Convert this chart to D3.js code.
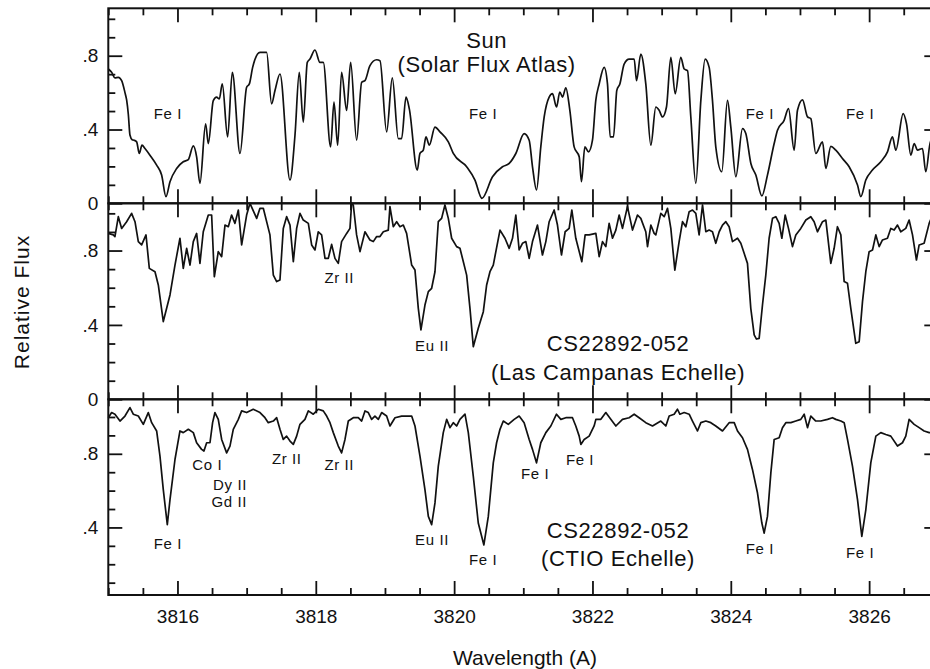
<!DOCTYPE html>
<html>
<head>
<meta charset="utf-8">
<script src="https://cdn.jsdelivr.net/npm/d3@7"></script>
<style>
  body { margin: 0; background: #fff; }
  svg { display: block; font-family: "Liberation Sans", Arial, Helvetica, sans-serif; }
</style>
</head>
<body>
<svg id="chart" width="930" height="669"></svg>
<script>
// wavelength (A), relative flux
const sunSpectrum = [
  [3815.000,0.728],[3815.048,0.710],[3815.096,0.680],[3815.145,0.683],[3815.193,0.665],[3815.241,0.600],
  [3815.265,0.560],[3815.290,0.480],[3815.313,0.370],[3815.345,0.345],[3815.371,0.342],[3815.410,0.333],
  [3815.448,0.270],[3815.487,0.315],[3815.530,0.297],[3815.602,0.261],[3815.699,0.207],[3815.771,0.153],
  [3815.834,0.036],[3815.892,0.117],[3815.988,0.189],[3816.084,0.225],[3816.157,0.237],[3816.229,0.311],
  [3816.277,0.252],[3816.325,0.108],[3816.407,0.431],[3816.446,0.324],[3816.518,0.557],[3816.566,0.575],
  [3816.605,0.566],[3816.648,0.647],[3816.725,0.360],[3816.793,0.710],[3816.904,0.270],[3817.000,0.629],
  [3817.039,0.647],[3817.087,0.737],[3817.193,0.818],[3817.289,0.818],[3817.361,0.539],[3817.410,0.611],
  [3817.482,0.701],[3817.627,0.126],[3817.699,0.369],[3817.761,0.710],[3817.819,0.440],[3817.877,0.764],
  [3817.916,0.782],[3817.988,0.831],[3818.060,0.764],[3818.108,0.764],[3818.214,0.306],[3818.263,0.548],
  [3818.316,0.315],[3818.373,0.710],[3818.446,0.503],[3818.504,0.764],[3818.590,0.342],[3818.663,0.656],
  [3818.711,0.665],[3818.783,0.746],[3818.880,0.778],[3818.928,0.773],[3819.024,0.387],[3819.106,0.680],
  [3819.193,0.351],[3819.241,0.351],[3819.304,0.575],[3819.352,0.512],[3819.467,0.180],[3819.506,0.270],
  [3819.554,0.288],[3819.593,0.360],[3819.641,0.315],[3819.723,0.413],[3819.795,0.387],[3819.916,0.333],
  [3819.988,0.270],[3820.181,0.198],[3820.301,0.126],[3820.402,0.027],[3820.555,0.144],[3820.699,0.198],
  [3820.796,0.216],[3820.892,0.270],[3821.012,0.378],[3821.085,0.342],[3821.133,0.198],[3821.191,0.072],
  [3821.253,0.306],[3821.302,0.468],[3821.374,0.576],[3821.422,0.594],[3821.480,0.522],[3821.528,0.603],
  [3821.567,0.576],[3821.615,0.626],[3821.673,0.504],[3821.735,0.306],[3821.808,0.252],[3821.841,0.117],
  [3821.890,0.306],[3821.943,0.279],[3822.000,0.342],[3822.048,0.558],[3822.097,0.647],[3822.169,0.737],
  [3822.217,0.647],[3822.256,0.360],[3822.304,0.360],[3822.352,0.612],[3822.396,0.647],[3822.458,0.755],
  [3822.530,0.782],[3822.603,0.782],[3822.637,0.665],[3822.699,0.809],[3822.771,0.647],[3822.844,0.315],
  [3822.916,0.522],[3822.964,0.504],[3823.012,0.468],[3823.070,0.522],[3823.133,0.791],[3823.196,0.594],
  [3823.277,0.791],[3823.326,0.728],[3823.374,0.719],[3823.422,0.468],[3823.494,0.108],[3823.567,0.558],
  [3823.629,0.782],[3823.687,0.737],[3823.735,0.558],[3823.783,0.306],[3823.870,0.171],[3823.952,0.558],
  [3824.000,0.414],[3824.073,0.144],[3824.169,0.405],[3824.217,0.378],[3824.290,0.216],[3824.362,0.153],
  [3824.449,0.040],[3824.530,0.153],[3824.627,0.324],[3824.675,0.396],[3824.771,0.450],[3824.834,0.513],
  [3824.916,0.288],[3824.964,0.504],[3825.037,0.561],[3825.109,0.468],[3825.157,0.459],[3825.229,0.270],
  [3825.326,0.333],[3825.374,0.189],[3825.446,0.309],[3825.518,0.288],[3825.614,0.243],[3825.711,0.198],
  [3825.832,0.099],[3825.880,0.036],[3825.952,0.126],[3826.048,0.180],[3826.169,0.225],[3826.265,0.279],
  [3826.337,0.360],[3826.386,0.288],[3826.492,0.486],[3826.540,0.432],[3826.603,0.261],[3826.651,0.324],
  [3826.699,0.288],[3826.771,0.297],[3826.819,0.171],[3826.892,0.342],[3827.000,0.330]
];

const lcoSpectrum = [
  [3815.000,0.892],[3815.072,0.884],[3815.096,0.875],[3815.145,0.982],[3815.193,0.919],[3815.265,0.955],
  [3815.337,1.000],[3815.386,0.955],[3815.434,0.848],[3815.482,0.830],[3815.545,0.884],[3815.593,0.704],
  [3815.675,0.686],[3815.723,0.615],[3815.795,0.418],[3815.892,0.561],[3815.964,0.722],[3816.036,0.866],
  [3816.084,0.704],[3816.133,0.812],[3816.181,0.722],[3816.229,0.848],[3816.277,0.892],[3816.325,0.731],
  [3816.373,0.901],[3816.446,0.991],[3816.494,0.991],[3816.533,0.659],[3816.590,0.794],[3816.639,0.767],
  [3816.687,0.937],[3816.735,0.928],[3816.783,0.991],[3816.831,0.946],[3816.880,1.018],[3816.928,0.830],
  [3817.000,0.991],[3817.048,1.054],[3817.145,0.973],[3817.193,1.027],[3817.241,1.027],[3817.337,0.884],
  [3817.386,0.668],[3817.434,0.633],[3817.482,0.642],[3817.530,0.919],[3817.578,0.982],[3817.627,0.937],
  [3817.675,0.740],[3817.723,0.919],[3817.771,1.000],[3817.819,0.964],[3817.892,0.946],[3817.940,0.830],
  [3817.988,0.803],[3818.036,0.901],[3818.084,0.884],[3818.133,0.758],[3818.181,0.758],[3818.229,0.833],
  [3818.277,0.758],[3818.325,0.731],[3818.373,0.848],[3818.446,0.892],[3818.494,0.919],[3818.518,1.054],
  [3818.542,1.045],[3818.590,0.884],[3818.639,0.794],[3818.711,0.901],[3818.783,0.857],[3818.831,0.848],
  [3818.880,0.875],[3818.928,0.875],[3818.976,0.901],[3819.048,0.910],[3819.072,1.036],[3819.120,0.928],
  [3819.169,0.955],[3819.217,0.928],[3819.265,0.937],[3819.313,0.892],[3819.386,0.722],[3819.434,0.695],
  [3819.482,0.489],[3819.520,0.373],[3819.578,0.507],[3819.627,0.579],[3819.675,0.597],[3819.723,0.686],
  [3819.771,0.955],[3819.819,0.973],[3819.867,1.045],[3819.916,0.973],[3819.964,0.866],[3820.036,0.821],
  [3820.084,0.812],[3820.133,0.740],[3820.181,0.668],[3820.229,0.489],[3820.277,0.283],[3820.349,0.382],
  [3820.422,0.471],[3820.470,0.615],[3820.518,0.686],[3820.566,0.722],[3820.663,0.910],[3820.735,0.866],
  [3820.796,0.812],[3820.844,0.866],[3820.892,0.991],[3820.940,0.803],[3820.988,0.839],[3821.037,0.848],
  [3821.085,0.758],[3821.133,0.848],[3821.205,0.937],[3821.277,0.776],[3821.326,0.848],[3821.374,0.955],
  [3821.446,1.018],[3821.494,0.937],[3821.552,0.776],[3821.605,0.901],[3821.663,0.919],[3821.702,1.018],
  [3821.759,0.866],[3821.846,0.740],[3821.894,0.884],[3821.952,0.884],[3822.049,0.892],[3822.097,0.767],
  [3822.145,0.848],[3822.193,0.821],[3822.241,0.946],[3822.290,0.866],[3822.338,0.910],[3822.386,0.991],
  [3822.434,0.919],[3822.506,1.036],[3822.579,0.910],[3822.651,0.991],[3822.699,0.973],[3822.771,0.901],
  [3822.796,0.821],[3822.844,0.937],[3822.892,0.892],[3822.916,0.884],[3822.988,1.000],[3823.037,0.982],
  [3823.085,1.027],[3823.133,0.919],[3823.191,0.695],[3823.253,0.848],[3823.302,0.955],[3823.350,0.928],
  [3823.398,1.009],[3823.446,1.018],[3823.494,1.000],[3823.542,0.884],[3823.591,1.045],[3823.639,0.901],
  [3823.687,0.910],[3823.735,0.901],[3823.783,0.839],[3823.832,0.901],[3823.880,0.937],[3823.928,0.955],
  [3823.976,0.928],[3824.024,0.848],[3824.097,0.866],[3824.145,0.839],[3824.193,0.785],[3824.241,0.731],
  [3824.289,0.489],[3824.338,0.346],[3824.371,0.324],[3824.410,0.328],[3824.458,0.507],[3824.506,0.668],
  [3824.554,0.866],[3824.603,0.973],[3824.651,0.982],[3824.699,0.946],[3824.738,0.866],[3824.786,0.991],
  [3824.834,0.919],[3824.892,0.821],[3824.940,0.884],[3825.012,0.919],[3825.085,0.964],[3825.157,0.982],
  [3825.205,0.955],[3825.253,0.901],[3825.326,0.955],[3825.374,0.964],[3825.446,0.731],[3825.494,0.812],
  [3825.542,0.928],[3825.591,0.884],[3825.639,0.633],[3825.687,0.624],[3825.735,0.489],[3825.807,0.301],
  [3825.856,0.310],[3825.904,0.525],[3825.952,0.686],[3826.000,0.794],[3826.049,0.803],[3826.097,0.884],
  [3826.145,0.821],[3826.193,0.857],[3826.265,0.866],[3826.313,0.919],[3826.362,0.910],[3826.410,0.937],
  [3826.458,0.901],[3826.530,0.919],[3826.578,0.964],[3826.627,0.884],[3826.684,0.749],[3826.723,0.830],
  [3826.795,0.839],[3826.868,0.946],[3826.916,0.991]
];

const ctioSpectrum = [
  [3815.000,0.996],[3815.048,1.024],[3815.096,1.015],[3815.169,0.978],[3815.241,1.005],[3815.313,1.051],
  [3815.361,1.015],[3815.434,1.005],[3815.506,0.960],[3815.578,1.024],[3815.627,0.969],[3815.699,0.924],
  [3815.747,0.787],[3815.795,0.605],[3815.853,0.415],[3815.892,0.551],[3815.964,0.769],[3816.036,0.924],
  [3816.084,0.915],[3816.157,0.933],[3816.229,0.915],[3816.277,0.860],[3816.349,0.824],[3816.383,0.815],
  [3816.422,0.860],[3816.470,0.860],[3816.508,0.969],[3816.542,1.024],[3816.590,0.987],[3816.639,0.878],
  [3816.711,0.805],[3816.759,0.842],[3816.807,0.933],[3816.880,0.987],[3816.928,1.033],[3817.000,1.024],
  [3817.096,1.042],[3817.193,1.024],[3817.265,0.996],[3817.313,0.969],[3817.386,0.978],[3817.434,0.996],
  [3817.482,0.933],[3817.530,0.878],[3817.578,0.896],[3817.627,0.869],[3817.675,0.851],[3817.723,0.896],
  [3817.771,0.960],[3817.843,0.987],[3817.892,1.033],[3817.964,1.015],[3818.036,1.042],[3818.108,1.033],
  [3818.157,1.005],[3818.205,0.969],[3818.253,0.915],[3818.325,0.842],[3818.373,0.805],[3818.422,0.878],
  [3818.470,0.978],[3818.542,0.996],[3818.614,0.996],[3818.663,0.978],[3818.711,1.033],[3818.759,1.024],
  [3818.807,0.987],[3818.855,1.005],[3818.904,0.987],[3818.952,1.024],[3819.024,1.005],[3819.072,0.951],
  [3819.145,0.996],[3819.241,1.005],[3819.386,1.005],[3819.434,0.951],[3819.506,0.787],[3819.578,0.605],
  [3819.627,0.460],[3819.675,0.415],[3819.723,0.533],[3819.771,0.733],[3819.843,0.915],[3819.892,0.987],
  [3819.940,0.942],[3819.988,0.969],[3820.036,0.951],[3820.084,0.987],[3820.157,1.015],[3820.205,0.915],
  [3820.277,0.678],[3820.349,0.424],[3820.430,0.305],[3820.494,0.460],[3820.566,0.751],[3820.614,0.860],
  [3820.663,0.933],[3820.711,0.978],[3820.783,0.960],[3820.868,0.987],[3820.940,1.005],[3821.012,0.969],
  [3821.085,0.878],[3821.133,0.824],[3821.191,0.751],[3821.253,0.860],[3821.326,0.915],[3821.398,0.951],
  [3821.480,1.015],[3821.543,0.987],[3821.615,0.996],[3821.711,0.996],[3821.759,0.951],[3821.808,0.896],
  [3821.832,0.851],[3821.880,0.878],[3821.952,0.896],[3822.024,0.951],[3822.049,0.987],[3822.121,0.987],
  [3822.193,1.024],[3822.265,0.987],[3822.338,0.951],[3822.434,0.987],[3822.530,0.996],[3822.603,1.015],
  [3822.675,0.996],[3822.771,0.969],[3822.868,0.951],[3822.988,0.978],[3823.061,0.951],[3823.109,1.005],
  [3823.181,1.015],[3823.229,1.042],[3823.263,1.015],[3823.326,1.024],[3823.398,1.015],[3823.446,0.978],
  [3823.518,0.924],[3823.567,0.969],[3823.639,0.978],[3823.711,0.969],[3823.783,0.951],[3823.880,0.924],
  [3823.976,0.969],[3824.049,0.969],[3824.097,0.924],[3824.169,0.887],[3824.241,0.824],[3824.313,0.715],
  [3824.386,0.587],[3824.449,0.424],[3824.482,0.369],[3824.530,0.460],[3824.579,0.696],[3824.627,0.878],
  [3824.699,0.887],[3824.747,0.942],[3824.796,0.969],[3824.868,0.969],[3824.940,0.978],[3825.012,0.987],
  [3825.061,1.015],[3825.109,0.942],[3825.157,1.005],[3825.229,0.978],[3825.301,0.978],[3825.398,0.987],
  [3825.470,0.996],[3825.518,0.987],[3825.591,0.978],[3825.639,0.969],[3825.687,0.878],[3825.759,0.733],
  [3825.832,0.551],[3825.894,0.351],[3825.952,0.496],[3826.024,0.751],[3826.097,0.896],[3826.169,0.915],
  [3826.241,0.905],[3826.313,0.896],[3826.410,0.842],[3826.482,0.860],[3826.530,0.896],[3826.578,0.987],
  [3826.651,0.960],[3826.723,0.942],[3826.795,0.924],[3826.868,0.915],[3826.916,0.915]
];

// line identifications: text, wavelength, flux level of the label
const sunLines = [
  ["Fe I", 3815.86, 0.487], ["Fe I", 3820.42, 0.487], ["Fe I", 3824.42, 0.487], ["Fe I", 3825.87, 0.487]
];
const lcoLines = [
  ["Zr II", 3818.34, 0.652], ["Eu II", 3819.68, 0.287]
];
const ctioLines = [
  ["Fe I", 3815.86, 0.311], ["Co I", 3816.43, 0.742], ["Dy II", 3816.76, 0.633], ["Gd II", 3816.75, 0.540],
  ["Zr II", 3817.58, 0.774], ["Zr II", 3818.34, 0.742], ["Eu II", 3819.68, 0.333], ["Fe I", 3820.42, 0.224],
  ["Fe I", 3821.17, 0.693], ["Fe I", 3821.82, 0.769], ["Fe I", 3824.42, 0.284], ["Fe I", 3825.87, 0.262]
];

// panel titles: two lines of text, wavelength, flux level of each line
const sunTitle = [["Sun", "(Solar Flux Atlas)"], 3820.47, [0.887, 0.757]];
const lcoTitle = [["CS22892-052", "(Las Campanas Echelle)"], 3822.37, [0.303, 0.147]];
const ctioTitle = [["CS22892-052", "(CTIO Echelle)"], 3822.37, [0.387, 0.235]];

const xLabelTicks = [3816, 3818, 3820, 3822, 3824, 3826];
const yLabelTicks = [0, 0.4, 0.8];

const svg = d3.select("#chart");
const left = 108.3, right = 938.3;
const x = d3.scaleLinear().domain([3815, 3827]).range([left, right]);

const panels = [
  { data: sunSpectrum, lines: sunLines, title: sunTitle, top: 8.3, bottom: 203.3, dom: [0, 1.057], smooth: true, zero: true },
  { data: lcoSpectrum, lines: lcoLines, title: lcoTitle, top: 203.3, bottom: 399.3, dom: [0, 1.054], smooth: false, zero: true },
  { data: ctioSpectrum, lines: ctioLines, title: ctioTitle, top: 399.3, bottom: 595, dom: [0.033, 1.096], smooth: false, zero: false }
];

const xAll = d3.range(3815, 3827.001, 0.5).map(v => +v.toFixed(1));
const xMajor = xAll.filter(v => v % 2 === 0);
const xMinor = xAll.filter(v => v % 2 !== 0);
const fmtY = d => d === 0 ? "0" : d3.format(".1f")(d).replace(/^0/, "");

panels.forEach((p, i) => {
  const y = d3.scaleLinear().domain(p.dom).range([p.bottom, p.top]);
  const g = svg.append("g");

  const yAll = d3.range(0, 1.0001, 0.1).map(v => +v.toFixed(1)).filter(v => v >= p.dom[0] && v <= p.dom[1]);
  const yMajor = yAll.filter(v => yLabelTicks.includes(v));
  const yMinor = yAll.filter(v => !yLabelTicks.includes(v));

  // y labels on the left
  const yl = yMajor.filter(v => v !== 0 || p.zero);
  g.append("g").attr("transform", `translate(${left},0)`)
    .call(d3.axisLeft(y).tickValues(yl).tickSize(0).tickPadding(10).tickFormat(fmtY))
    .call(s => s.select(".domain").remove())
    .selectAll("text").attr("font-size", 19).attr("fill", "#111");

  if (i === panels.length - 1) {
    g.append("g").attr("transform", `translate(0,${p.bottom})`)
      .call(d3.axisBottom(x).tickValues(xLabelTicks).tickSize(0).tickPadding(14.5).tickFormat(d3.format("d")))
      .call(s => s.select(".domain").remove())
      .selectAll("text").attr("font-size", 19).attr("fill", "#111");
  }

  const line = d3.line()
    .x(d => x(d[0])).y(d => y(d[1]))
    .curve(p.smooth ? d3.curveMonotoneX : d3.curveLinear);

  g.append("path").datum(p.data)
    .attr("d", line)
    .attr("fill", "none").attr("stroke", "#111").attr("stroke-width", 1.7)
    .attr("stroke-linejoin", "round");

  g.selectAll(null).data(p.lines).enter().append("text")
    .attr("x", d => x(d[1])).attr("y", d => y(d[2]))
    .attr("dy", "0.36em").attr("text-anchor", "middle")
    .attr("font-size", 15).attr("letter-spacing", 0.6).attr("fill", "#111")
    .text(d => d[0]);

  const [txt, wl, fl] = p.title;
  txt.forEach((t, k) => {
    g.append("text")
      .attr("x", x(wl)).attr("y", y(fl[k])).attr("dy", "0.36em")
      .attr("text-anchor", "middle").attr("font-size", 22).attr("letter-spacing", 0.6)
      .attr("fill", "#111").text(t);
  });

  g.append("rect")
    .attr("x", left).attr("y", p.top).attr("width", right - left).attr("height", p.bottom - p.top)
    .attr("fill", "none").attr("stroke", "#111").attr("stroke-width", 2);

  // inward ticks on all four sides
  const ax = [
    [d3.axisBottom(x).tickValues(xMajor).tickSize(-14), `translate(0,${p.bottom})`],
    [d3.axisBottom(x).tickValues(xMinor).tickSize(-7), `translate(0,${p.bottom})`],
    [d3.axisTop(x).tickValues(xMajor).tickSize(-14), `translate(0,${p.top})`],
    [d3.axisTop(x).tickValues(xMinor).tickSize(-7), `translate(0,${p.top})`],
    [d3.axisLeft(y).tickValues(yMajor).tickSize(-14), `translate(${left},0)`],
    [d3.axisLeft(y).tickValues(yMinor).tickSize(-7), `translate(${left},0)`],
    [d3.axisRight(y).tickValues(yMajor).tickSize(-14), `translate(${right},0)`],
    [d3.axisRight(y).tickValues(yMinor).tickSize(-7), `translate(${right},0)`]
  ];
  ax.forEach(([a, tr]) => {
    const ag = g.append("g").attr("transform", tr).call(a.tickFormat(""));
    ag.select(".domain").remove();
    ag.selectAll(".tick line").attr("stroke", "#111").attr("stroke-width", 1.8);
  });
});

svg.append("text")
  .attr("x", 525).attr("y", 665).attr("text-anchor", "middle")
  .attr("font-size", 21).attr("fill", "#111").text("Wavelength (A)");

svg.append("text")
  .attr("transform", "translate(29,302) rotate(-90)").attr("text-anchor", "middle")
  .attr("font-size", 21).attr("letter-spacing", 1).attr("fill", "#111").text("Relative Flux");
</script>
</body>
</html>
